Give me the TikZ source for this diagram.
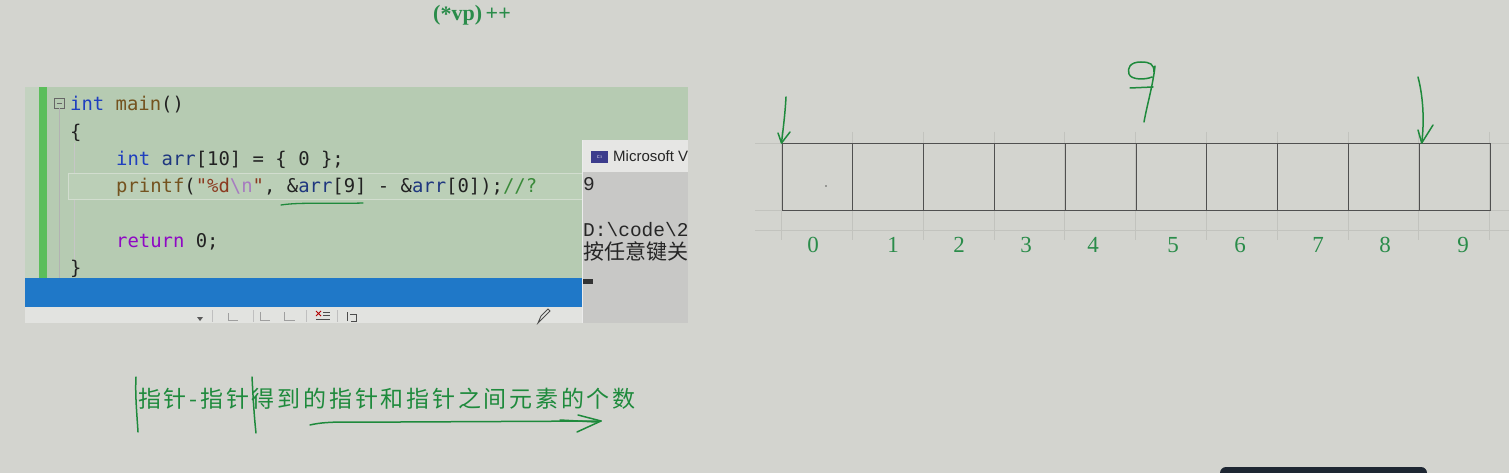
\documentclass[tikz,border=0pt]{standalone}
\usepackage{fontspec}
\newfontfamily\codefont{DejaVu Sans Mono}
\newfontfamily\cjk{Noto Sans CJK SC}
\newfontfamily\cjkspaced[LetterSpace=12]{Noto Sans CJK SC}
\newfontfamily\numfont{Liberation Serif}
\newfontfamily\uifont{Liberation Sans}
\newfontfamily\conmono{Liberation Mono}
\definecolor{bg}{HTML}{D3D4CF}
\definecolor{panel}{HTML}{B6CBB2}
\definecolor{lpanel}{HTML}{C3D2C0}
\definecolor{gbar}{HTML}{5BBE5B}
\definecolor{curfill}{HTML}{BBCFB7}
\definecolor{curdraw}{HTML}{D2DDCF}
\definecolor{bluebar}{HTML}{1F78C8}
\definecolor{toolbar}{HTML}{E2E3E0}
\definecolor{conbody}{HTML}{C8C8C6}
\definecolor{contitle}{HTML}{E6E6E4}
\definecolor{conicon}{HTML}{3C3C8C}
\definecolor{kw}{HTML}{1F3FBF}
\definecolor{fn}{HTML}{74531F}
\definecolor{var}{HTML}{1F377F}
\definecolor{str}{HTML}{8B3A20}
\definecolor{esc}{HTML}{A77CC0}
\definecolor{cmt}{HTML}{3A8A3A}
\definecolor{ret}{HTML}{8F08C4}
\definecolor{txt}{HTML}{222222}
\definecolor{hand}{HTML}{1E8A3C}
\definecolor{numc}{HTML}{2A8C4A}
\definecolor{gridc}{HTML}{C2C3BE}
\definecolor{celld}{HTML}{505050}
\definecolor{darkui}{HTML}{1E2733}
\begin{document}
\begin{tikzpicture}[x=1pt,y=-1pt,
  code/.style={font=\codefont\fontsize{18.9}{20}\selectfont, text=txt, inner sep=0pt, anchor=base west},
  cell/.style={draw=celld, line width=1pt, minimum width=70.8pt, minimum height=67pt, inner sep=0pt, anchor=north west},
  idx/.style={font=\numfont\fontsize{23}{24}\selectfont, text=numc, inner sep=0pt},
  handline/.style={draw=hand, line width=1.5pt, line cap=round, line join=round},
  grid/.style={draw=gridc, line width=0.6pt},
  tbicon/.style={draw=gray!75, line width=0.9pt}]
\useasboundingbox (0,0) rectangle (1509,473);
\fill[bg] (0,0) rectangle (1509,473);

% ---------- top label
\node[font=\numfont\bfseries\fontsize{22}{24}\selectfont, text=numc, inner sep=0pt, anchor=west] (vp) at (433,15) {(\raisebox{-1pt}{*}vp)\,++};

% ---------- code panel
\fill[panel] (25,87) rectangle (688,278);
\fill[lpanel] (25,87) rectangle (39,278);
\fill[gbar] (39,87) rectangle (47,278);
\draw[gray!80!black, line width=0.8pt] (54,98) rectangle (64,108);
\draw[gray!80!black, line width=0.8pt] (56.5,103) -- (61.5,103);
\draw[draw=gray!60, line width=0.6pt] (59,108) -- (59,278);
\draw[draw=gray!45, line width=0.5pt] (74,143) -- (74,262);
\draw[draw=curdraw, fill=curfill, line width=1pt] (68,174) rectangle (584,200);

\node[code] (l1) at (70,111) {\textcolor{kw}{int} \textcolor{fn}{main}()};
\node[code] (l2) at (70,139) {\{};
\node[code] (l3) at (116,166) {\textcolor{kw}{int} \textcolor{var}{arr}[10] = \{ 0 \};};
\node[code] (l4) at (116,193) {\textcolor{fn}{printf}(\textcolor{str}{"\%d}\textcolor{esc}{\textbackslash n}\textcolor{str}{"}, \&\textcolor{var}{arr}[9] - \&\textcolor{var}{arr}[0]);\textcolor{cmt}{//?}};
\node[code] (l5) at (116,247) {\textcolor{ret}{return} 0;};
\node[code] (l6) at (70,274) {\}};
\coordinate (u1) at (281,205);
\coordinate (u2) at (363,203);
\draw[handline, line width=1.3pt] (u1) .. controls (300,202) and (330,204) .. (u2);

% ---------- blue status bar and toolbar
\fill[bluebar] (25,278) rectangle (584,307);
\fill[toolbar] (25,307) rectangle (584,323);
\fill[gray!70!black] (197,317) -- (203,317) -- (200,321) -- cycle;
\foreach \sx in {212,253,306,337} \draw[draw=gray!50, line width=0.6pt] (\sx,310) -- (\sx,322);
\draw[tbicon] (228,313) -- (228,320) -- (238,320);
\draw[tbicon] (260,312) -- (260,320) -- (270,320);
\draw[tbicon] (284,312) -- (284,320) -- (295,320);
\draw[draw=red!70!black, line width=1pt] (316,311) -- (321,316) (321,311) -- (316,316);
\draw[tbicon, draw=black!70] (323,312) -- (330,312) (323,315) -- (330,315) (316,319) -- (330,319);
\draw[tbicon, draw=black!70] (347,312) -- (347,321) (350,314) -- (356,314) -- (356,321) -- (351,321);
\draw[tbicon, draw=gray!60!black] (538,323) -- (541,316) -- (548,309) -- (550,311) -- (543,318) -- cycle;

% ---------- console window
\fill[conbody] (582,140) rectangle (688,323);
\fill[contitle] (582,140) rectangle (688,172);
\draw[draw=white!85!gray, line width=1pt] (582.5,140) -- (582.5,323);
\begin{scope}
\clip (582,140) rectangle (688,323);
\fill[conicon] (591,151) rectangle (608,163);
\node[font=\uifont\fontsize{4}{4}\selectfont, text=white, inner sep=0pt] (cicon) at (599.5,157) {C:\textbackslash};
\node[font=\uifont\fontsize{15}{16}\selectfont, text=black!85, inner sep=0pt, anchor=base west] (ctitle) at (613,162) {Microsoft V};
\node[font=\conmono\fontsize{19.5}{20}\selectfont, text=black!85, inner sep=0pt, anchor=base west] (cout) at (583,191) {9};
\node[font=\conmono\fontsize{19.5}{20}\selectfont, text=black!85, inner sep=0pt, anchor=base west] (cpath) at (583,236) {D:\textbackslash code\textbackslash 20};
\node[font=\cjk\fontsize{21}{22}\selectfont, text=black!85, inner sep=0pt, anchor=base west] (cpress) at (583,259) {按任意键关};
\fill[black!80] (583,279) rectangle (593,284);
\end{scope}

% ---------- array drawing
\foreach \gy in {143,210,230} \draw[grid] (755,\gy) -- (1509,\gy);
\foreach \i in {0,...,10} \draw[grid] ({781.5+\i*70.8},132) -- ({781.5+\i*70.8},240);
\foreach \i in {0,...,9} \node[cell] (c\i) at ({781.5+\i*70.8},143) {};
\fill[gray!70!black] (826,186) circle (0.9pt);
\foreach \i/\nx in {0/813,1/893,2/959,3/1026,4/1093,5/1173,6/1240,7/1318,8/1385,9/1463}
  \node[idx] (n\i) at (\nx,245) {\i};

% hand-drawn 9
\coordinate (nine) at (1154,72);
\draw[handline] (nine) .. controls (1154,64) and (1150,62) .. (1141,62)
  .. controls (1130,62) and (1127,68) .. (1129,74)
  .. controls (1131,80) and (1145,80) .. (1152,77)
  (1130,88) -- (1153,87)
  (1155,66) .. controls (1153,85) and (1147,105) .. (1144,122);

% arrows to element 0 and element 9
\coordinate (a0) at (786,97);
\draw[handline] (a0) .. controls (785,115) and (783,130) .. (c0.north west);
\draw[handline] (778,133) -- (c0.north west) -- (790,132);
\coordinate (a9) at (1418,77);
\coordinate (t9) at ([xshift=3pt]c9.north west);
\draw[handline] (a9) .. controls (1424,100) and (1424,125) .. (t9);
\draw[handline] (1418,130) -- (t9) -- (1433,125);

% ---------- bottom note
\node[font=\cjkspaced\fontsize{23}{24}\selectfont, text=hand, inner sep=0pt, anchor=west] (note) at (138,399) {指针-指针得到的指针和指针之间元素的个数};
\coordinate (m1) at (136,377);
\coordinate (m2) at (138,432);
\draw[handline] (m1) .. controls (135,395) and (137,415) .. (m2);
\coordinate (m3) at (252,377);
\coordinate (m4) at (256,433);
\draw[handline] (m3) .. controls (253,395) and (254,415) .. (m4);
\coordinate (r1) at (310,425);
\coordinate (r2) at (601,421);
\draw[handline] (r1) .. controls (330,420) and (360,423) .. (400,422) -- (r2);
\draw[handline] (578,415) -- (r2) -- (577,432);
\draw[handline] (560,420) -- (596,422);

% ---------- dark element at bottom right
\begin{scope}
\clip (0,0) rectangle (1509,473);
\fill[darkui, rounded corners=6pt] (1220,467) rectangle (1427,490);
\end{scope}
\end{tikzpicture}
\end{document}
